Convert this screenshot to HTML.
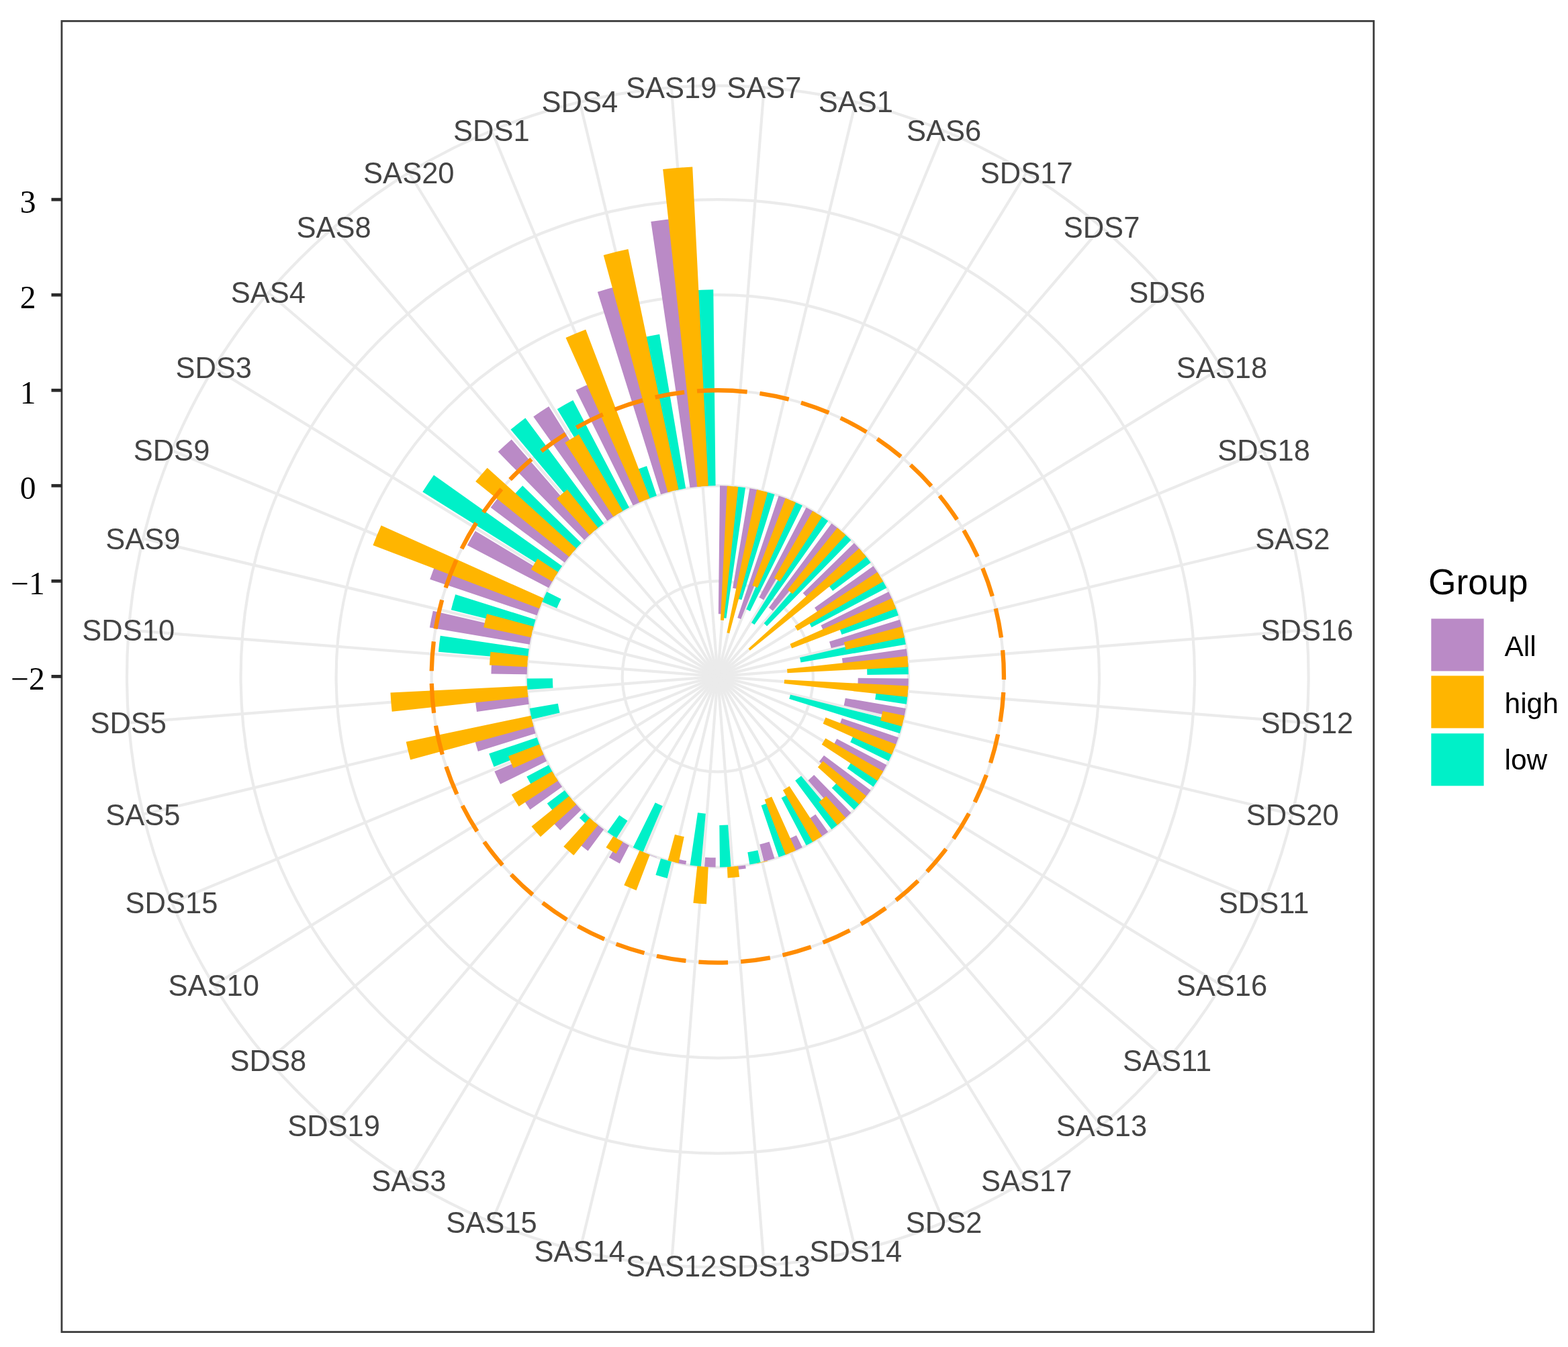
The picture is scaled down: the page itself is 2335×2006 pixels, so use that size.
<!DOCTYPE html><html><head><meta charset="utf-8"><style>html,body{margin:0;padding:0;background:#fff;}svg{display:block;}</style></head><body>
<svg width="2335" height="2006" viewBox="0 0 2335 2006">
<rect x="0" y="0" width="2335" height="2006" fill="#fff"/>
<g fill="none" stroke="#EBEBEB" stroke-width="4.2"><circle cx="1068.8" cy="1007.4" r="142.05"/><circle cx="1068.8" cy="1007.4" r="284.10"/><circle cx="1068.8" cy="1007.4" r="426.15"/><circle cx="1068.8" cy="1007.4" r="568.20"/><circle cx="1068.8" cy="1007.4" r="710.25"/><circle cx="1068.8" cy="1007.4" r="879.80"/><line x1="1068.8" y1="1007.4" x2="1137.83" y2="130.31"/><line x1="1068.8" y1="1007.4" x2="1274.19" y2="151.91"/><line x1="1068.8" y1="1007.4" x2="1405.48" y2="194.57"/><line x1="1068.8" y1="1007.4" x2="1528.49" y2="257.25"/><line x1="1068.8" y1="1007.4" x2="1640.18" y2="338.39"/><line x1="1068.8" y1="1007.4" x2="1737.81" y2="436.02"/><line x1="1068.8" y1="1007.4" x2="1818.95" y2="547.71"/><line x1="1068.8" y1="1007.4" x2="1881.63" y2="670.72"/><line x1="1068.8" y1="1007.4" x2="1924.29" y2="802.01"/><line x1="1068.8" y1="1007.4" x2="1945.89" y2="938.37"/><line x1="1068.8" y1="1007.4" x2="1945.89" y2="1076.43"/><line x1="1068.8" y1="1007.4" x2="1924.29" y2="1212.79"/><line x1="1068.8" y1="1007.4" x2="1881.63" y2="1344.08"/><line x1="1068.8" y1="1007.4" x2="1818.95" y2="1467.09"/><line x1="1068.8" y1="1007.4" x2="1737.81" y2="1578.78"/><line x1="1068.8" y1="1007.4" x2="1640.18" y2="1676.41"/><line x1="1068.8" y1="1007.4" x2="1528.49" y2="1757.55"/><line x1="1068.8" y1="1007.4" x2="1405.48" y2="1820.23"/><line x1="1068.8" y1="1007.4" x2="1274.19" y2="1862.89"/><line x1="1068.8" y1="1007.4" x2="1137.83" y2="1884.49"/><line x1="1068.8" y1="1007.4" x2="999.77" y2="1884.49"/><line x1="1068.8" y1="1007.4" x2="863.41" y2="1862.89"/><line x1="1068.8" y1="1007.4" x2="732.12" y2="1820.23"/><line x1="1068.8" y1="1007.4" x2="609.11" y2="1757.55"/><line x1="1068.8" y1="1007.4" x2="497.42" y2="1676.41"/><line x1="1068.8" y1="1007.4" x2="399.79" y2="1578.78"/><line x1="1068.8" y1="1007.4" x2="318.65" y2="1467.09"/><line x1="1068.8" y1="1007.4" x2="255.97" y2="1344.08"/><line x1="1068.8" y1="1007.4" x2="213.31" y2="1212.79"/><line x1="1068.8" y1="1007.4" x2="191.71" y2="1076.43"/><line x1="1068.8" y1="1007.4" x2="191.71" y2="938.37"/><line x1="1068.8" y1="1007.4" x2="213.31" y2="802.01"/><line x1="1068.8" y1="1007.4" x2="255.97" y2="670.72"/><line x1="1068.8" y1="1007.4" x2="318.65" y2="547.71"/><line x1="1068.8" y1="1007.4" x2="399.79" y2="436.02"/><line x1="1068.8" y1="1007.4" x2="497.42" y2="338.39"/><line x1="1068.8" y1="1007.4" x2="609.11" y2="257.25"/><line x1="1068.8" y1="1007.4" x2="732.12" y2="194.57"/><line x1="1068.8" y1="1007.4" x2="863.41" y2="151.91"/><line x1="1068.8" y1="1007.4" x2="999.77" y2="130.31"/></g>
<g><path d="M1069.85,914.22L1072.01,723.32A284.10,284.10 0 0 1 1088.51,723.98L1075.26,914.44A93.18,93.18 0 0 0 1069.85,914.22Z" fill="#BA8AC6"/><path d="M1076.46,920.23L1093.67,724.39A284.10,284.10 0 0 1 1110.07,726.31L1081.51,920.83A87.50,87.50 0 0 0 1076.46,920.23Z" fill="#00F0C8"/><path d="M1091.18,875.76L1116.41,727.32A284.10,284.10 0 0 1 1132.60,730.56L1098.79,877.28A133.53,133.53 0 0 0 1091.18,875.76Z" fill="#BA8AC6"/><path d="M1097.75,891.50L1137.64,731.77A284.10,284.10 0 0 1 1153.53,736.23L1104.43,893.37A119.46,119.46 0 0 0 1097.75,891.50Z" fill="#00F0C8"/><path d="M1098.28,920.05L1159.64,738.22A284.10,284.10 0 0 1 1175.12,743.95L1103.30,921.91A92.19,92.19 0 0 0 1098.28,920.05Z" fill="#BA8AC6"/><path d="M1111.24,907.52L1179.91,745.93A284.10,284.10 0 0 1 1194.91,752.82L1116.97,910.15A108.53,108.53 0 0 0 1111.24,907.52Z" fill="#00F0C8"/><path d="M1130.43,889.75L1200.63,755.74A284.10,284.10 0 0 1 1215.03,763.82L1137.16,893.53A132.82,132.82 0 0 0 1130.43,889.75Z" fill="#BA8AC6"/><path d="M1118.96,927.19L1219.44,766.53A284.10,284.10 0 0 1 1233.18,775.68L1123.54,930.24A94.61,94.61 0 0 0 1118.96,927.19Z" fill="#00F0C8"/><path d="M1144.94,905.06L1238.38,779.46A284.10,284.10 0 0 1 1251.33,789.70L1150.76,909.65A127.56,127.56 0 0 0 1144.94,905.06Z" fill="#BA8AC6"/><path d="M1137.61,928.31L1255.27,793.06A284.10,284.10 0 0 1 1267.40,804.25L1142.08,932.44A104.83,104.83 0 0 0 1137.61,928.31Z" fill="#00F0C8"/><path d="M1195.67,883.37L1271.95,808.80A284.10,284.10 0 0 1 1283.14,820.93L1202.66,890.95A177.42,177.42 0 0 0 1195.67,883.37Z" fill="#BA8AC6"/><path d="M1232.40,870.23L1286.50,824.87A284.10,284.10 0 0 1 1296.74,837.82L1240.10,879.96A213.50,213.50 0 0 0 1232.40,870.23Z" fill="#00F0C8"/><path d="M1213.04,905.07L1300.52,843.02A284.10,284.10 0 0 1 1309.67,856.76L1218.74,913.63A176.85,176.85 0 0 0 1213.04,905.07Z" fill="#BA8AC6"/><path d="M1204.11,926.17L1312.38,861.17A284.10,284.10 0 0 1 1320.46,875.57L1208.60,934.17A157.82,157.82 0 0 0 1204.11,926.17Z" fill="#00F0C8"/><path d="M1222.44,931.29L1323.38,881.29A284.10,284.10 0 0 1 1330.27,896.29L1226.60,940.35A171.45,171.45 0 0 0 1222.44,931.29Z" fill="#BA8AC6"/><path d="M1249.53,934.46L1332.25,901.08A284.10,284.10 0 0 1 1337.98,916.56L1253.46,945.08A194.89,194.89 0 0 0 1249.53,934.46Z" fill="#00F0C8"/><path d="M1235.03,955.46L1339.97,922.67A284.10,284.10 0 0 1 1344.43,938.56L1237.76,965.20A174.15,174.15 0 0 0 1235.03,955.46Z" fill="#BA8AC6"/><path d="M1191.03,979.23L1345.64,943.60A284.10,284.10 0 0 1 1348.88,959.79L1192.46,986.38A125.43,125.43 0 0 0 1191.03,979.23Z" fill="#00F0C8"/><path d="M1253.90,980.23L1349.89,966.13A284.10,284.10 0 0 1 1351.81,982.53L1255.16,991.02A187.08,187.08 0 0 0 1253.90,980.23Z" fill="#BA8AC6"/><path d="M1290.86,991.96L1352.22,987.69A284.10,284.10 0 0 1 1352.88,1004.19L1291.38,1004.88A222.59,222.59 0 0 0 1290.86,991.96Z" fill="#00F0C8"/><path d="M1277.74,1009.76L1352.88,1010.61A284.10,284.10 0 0 1 1352.22,1027.11L1277.25,1021.90A208.96,208.96 0 0 0 1277.74,1009.76Z" fill="#BA8AC6"/><path d="M1304.83,1028.14L1351.81,1032.27A284.10,284.10 0 0 1 1349.89,1048.67L1303.23,1041.82A236.94,236.94 0 0 0 1304.83,1028.14Z" fill="#00F0C8"/><path d="M1258.84,1039.71L1348.88,1055.01A284.10,284.10 0 0 1 1345.64,1071.20L1256.64,1050.69A192.76,192.76 0 0 0 1258.84,1039.71Z" fill="#BA8AC6"/><path d="M1176.99,1034.42L1344.43,1076.24A284.10,284.10 0 0 1 1339.97,1092.13L1175.23,1040.66A111.51,111.51 0 0 0 1176.99,1034.42Z" fill="#00F0C8"/><path d="M1253.73,1069.81L1337.98,1098.24A284.10,284.10 0 0 1 1332.25,1113.72L1249.79,1080.44A195.18,195.18 0 0 0 1253.73,1069.81Z" fill="#BA8AC6"/><path d="M1271.57,1093.56L1330.27,1118.51A284.10,284.10 0 0 1 1323.38,1133.51L1266.22,1105.20A220.32,220.32 0 0 0 1271.57,1093.56Z" fill="#00F0C8"/><path d="M1246.22,1100.34L1320.46,1139.23A284.10,284.10 0 0 1 1312.38,1153.63L1240.52,1110.49A200.29,200.29 0 0 0 1246.22,1100.34Z" fill="#BA8AC6"/><path d="M1269.21,1132.73L1309.67,1158.04A284.10,284.10 0 0 1 1300.52,1171.78L1261.59,1144.16A236.37,236.37 0 0 0 1269.21,1132.73Z" fill="#00F0C8"/><path d="M1226.99,1125.09L1296.74,1176.98A284.10,284.10 0 0 1 1286.50,1189.93L1219.89,1134.08A197.17,197.17 0 0 0 1226.99,1125.09Z" fill="#BA8AC6"/><path d="M1248.10,1163.38L1283.14,1193.87A284.10,284.10 0 0 1 1271.95,1206.00L1238.73,1173.53A237.65,237.65 0 0 0 1248.10,1163.38Z" fill="#00F0C8"/><path d="M1212.19,1154.07L1267.40,1210.55A284.10,284.10 0 0 1 1255.27,1221.74L1203.43,1162.15A205.12,205.12 0 0 0 1212.19,1154.07Z" fill="#BA8AC6"/><path d="M1193.01,1155.55L1251.33,1225.10A284.10,284.10 0 0 1 1238.38,1235.34L1184.20,1162.51A193.33,193.33 0 0 0 1193.01,1155.55Z" fill="#00F0C8"/><path d="M1214.44,1212.70L1233.18,1239.12A284.10,284.10 0 0 1 1219.44,1248.27L1202.27,1220.81A251.71,251.71 0 0 0 1214.44,1212.70Z" fill="#BA8AC6"/><path d="M1173.94,1182.53L1215.03,1250.98A284.10,284.10 0 0 1 1200.63,1259.06L1163.59,1188.34A204.27,204.27 0 0 0 1173.94,1182.53Z" fill="#00F0C8"/><path d="M1185.95,1243.90L1194.91,1261.98A284.10,284.10 0 0 1 1179.91,1268.87L1172.02,1250.31A263.93,263.93 0 0 0 1185.95,1243.90Z" fill="#BA8AC6"/><path d="M1144.66,1195.37L1175.12,1270.85A284.10,284.10 0 0 1 1159.64,1276.58L1133.62,1199.46A202.71,202.71 0 0 0 1144.66,1195.37Z" fill="#00F0C8"/><path d="M1145.69,1253.49L1153.53,1278.57A284.10,284.10 0 0 1 1137.64,1283.03L1131.27,1257.54A257.82,257.82 0 0 0 1145.69,1253.49Z" fill="#BA8AC6"/><path d="M1128.46,1266.25L1132.60,1284.24A284.10,284.10 0 0 1 1116.41,1287.48L1113.32,1269.28A265.63,265.63 0 0 0 1128.46,1266.25Z" fill="#00F0C8"/><path d="M1110.07,1288.49L1110.81,1293.55A289.21,289.21 0 0 1 1094.12,1295.50L1093.67,1290.41A284.10,284.10 0 0 0 1110.07,1288.49Z" fill="#BA8AC6"/><path d="M1084.17,1228.46L1088.51,1290.82A284.10,284.10 0 0 1 1072.01,1291.48L1071.31,1228.98A221.60,221.60 0 0 0 1084.17,1228.46Z" fill="#00F0C8"/><path d="M1065.75,1277.28L1065.59,1291.48A284.10,284.10 0 0 1 1049.09,1290.82L1050.08,1276.64A269.89,269.89 0 0 0 1065.75,1277.28Z" fill="#BA8AC6"/><path d="M1050.84,1211.73L1043.93,1290.41A284.10,284.10 0 0 1 1027.53,1288.49L1039.01,1210.34A205.12,205.12 0 0 0 1050.84,1211.73Z" fill="#00F0C8"/><path d="M1022.11,1282.02L1021.19,1287.48A284.10,284.10 0 0 1 1005.00,1284.24L1006.24,1278.84A278.56,278.56 0 0 0 1022.11,1282.02Z" fill="#BA8AC6"/><path d="M999.96,1283.03L993.73,1307.98A309.81,309.81 0 0 1 976.40,1303.11L984.07,1278.57A284.10,284.10 0 0 0 999.96,1283.03Z" fill="#00F0C8"/><path d="M977.96,1276.58L977.82,1276.99A284.53,284.53 0 0 1 962.32,1271.25L962.48,1270.85A284.10,284.10 0 0 0 977.96,1276.58Z" fill="#BA8AC6"/><path d="M986.80,1200.37L957.69,1268.87A284.10,284.10 0 0 1 942.69,1261.98L975.73,1195.28A209.67,209.67 0 0 0 986.80,1200.37Z" fill="#00F0C8"/><path d="M936.97,1259.06L922.86,1285.99A314.50,314.50 0 0 1 906.92,1277.04L922.57,1250.98A284.10,284.10 0 0 0 936.97,1259.06Z" fill="#BA8AC6"/><path d="M934.50,1222.14L918.16,1248.27A284.10,284.10 0 0 1 904.42,1239.12L922.26,1213.97A253.28,253.28 0 0 0 934.50,1222.14Z" fill="#00F0C8"/><path d="M899.22,1235.34L875.57,1267.14A323.73,323.73 0 0 1 860.80,1255.47L886.27,1225.10A284.10,284.10 0 0 0 899.22,1235.34Z" fill="#BA8AC6"/><path d="M882.33,1221.74L875.53,1229.56A294.47,294.47 0 0 1 862.95,1217.96L870.20,1210.55A284.10,284.10 0 0 0 882.33,1221.74Z" fill="#00F0C8"/><path d="M865.65,1206.00L834.37,1236.59A327.85,327.85 0 0 1 821.45,1222.58L854.46,1193.87A284.10,284.10 0 0 0 865.65,1206.00Z" fill="#BA8AC6"/><path d="M851.10,1189.93L826.17,1210.83A316.63,316.63 0 0 1 814.76,1196.40L840.86,1176.98A284.10,284.10 0 0 0 851.10,1189.93Z" fill="#00F0C8"/><path d="M837.08,1171.78L789.35,1205.64A342.62,342.62 0 0 1 778.31,1189.07L827.93,1158.04A284.10,284.10 0 0 0 837.08,1171.78Z" fill="#BA8AC6"/><path d="M825.22,1153.63L793.44,1172.71A321.18,321.18 0 0 1 784.30,1156.44L817.14,1139.23A284.10,284.10 0 0 0 825.22,1153.63Z" fill="#00F0C8"/><path d="M814.22,1133.51L745.10,1167.75A361.23,361.23 0 0 1 736.34,1148.67L807.33,1118.51A284.10,284.10 0 0 0 814.22,1133.51Z" fill="#BA8AC6"/><path d="M805.35,1113.72L735.53,1141.90A359.39,359.39 0 0 1 728.28,1122.31L799.62,1098.24A284.10,284.10 0 0 0 805.35,1113.72Z" fill="#00F0C8"/><path d="M797.63,1092.13L711.80,1118.95A374.02,374.02 0 0 1 705.93,1098.02L793.17,1076.24A284.10,284.10 0 0 0 797.63,1092.13Z" fill="#BA8AC6"/><path d="M833.62,1061.60L791.96,1071.20A284.10,284.10 0 0 1 788.72,1055.01L830.87,1047.85A241.34,241.34 0 0 0 833.62,1061.60Z" fill="#00F0C8"/><path d="M787.71,1048.67L709.99,1060.08A362.65,362.65 0 0 1 707.54,1039.15L785.79,1032.27A284.10,284.10 0 0 0 787.71,1048.67Z" fill="#BA8AC6"/><path d="M823.50,1024.46L785.38,1027.11A284.10,284.10 0 0 1 784.72,1010.61L822.93,1010.18A245.89,245.89 0 0 0 823.50,1024.46Z" fill="#00F0C8"/><path d="M784.72,1004.19L731.45,1003.58A337.37,337.37 0 0 1 732.24,984.00L785.38,987.69A284.10,284.10 0 0 0 784.72,1004.19Z" fill="#BA8AC6"/><path d="M785.79,982.53L652.92,970.85A417.48,417.48 0 0 1 655.74,946.76L787.71,966.13A284.10,284.10 0 0 0 785.79,982.53Z" fill="#00F0C8"/><path d="M788.72,959.79L639.85,934.48A435.10,435.10 0 0 1 644.81,909.69L791.96,943.60A284.10,284.10 0 0 0 788.72,959.79Z" fill="#BA8AC6"/><path d="M793.17,938.56L671.75,908.24A409.25,409.25 0 0 1 678.18,885.35L797.63,922.67A284.10,284.10 0 0 0 793.17,938.56Z" fill="#00F0C8"/><path d="M799.62,916.56L640.26,862.78A452.29,452.29 0 0 1 649.38,838.13L805.35,901.08A284.10,284.10 0 0 0 799.62,916.56Z" fill="#BA8AC6"/><path d="M829.29,905.63L807.33,896.29A284.10,284.10 0 0 1 814.22,881.29L835.61,891.89A260.24,260.24 0 0 0 829.29,905.63Z" fill="#00F0C8"/><path d="M817.14,875.57L695.84,812.02A421.04,421.04 0 0 1 707.82,790.69L825.22,861.17A284.10,284.10 0 0 0 817.14,875.57Z" fill="#BA8AC6"/><path d="M827.93,856.76L629.33,732.55A518.34,518.34 0 0 1 646.03,707.49L837.08,843.02A284.10,284.10 0 0 0 827.93,856.76Z" fill="#00F0C8"/><path d="M840.86,837.82L730.65,755.83A421.46,421.46 0 0 1 745.84,736.61L851.10,824.87A284.10,284.10 0 0 0 840.86,837.82Z" fill="#BA8AC6"/><path d="M854.46,820.93L762.18,740.66A406.41,406.41 0 0 1 778.20,723.30L865.65,808.80A284.10,284.10 0 0 0 854.46,820.93Z" fill="#00F0C8"/><path d="M870.20,804.25L741.70,672.82A467.91,467.91 0 0 1 761.69,654.38L882.33,793.06A284.10,284.10 0 0 0 870.20,804.25Z" fill="#BA8AC6"/><path d="M886.27,789.70L760.50,639.70A479.84,479.84 0 0 1 782.38,622.41L899.22,779.46A284.10,284.10 0 0 0 886.27,789.70Z" fill="#00F0C8"/><path d="M904.42,775.68L794.29,620.43A474.45,474.45 0 0 1 817.23,605.14L918.16,766.53A284.10,284.10 0 0 0 904.42,775.68Z" fill="#BA8AC6"/><path d="M922.57,763.82L829.79,609.27A464.36,464.36 0 0 1 853.32,596.06L936.97,755.74A284.10,284.10 0 0 0 922.57,763.82Z" fill="#00F0C8"/><path d="M942.69,752.82L857.57,580.98A475.87,475.87 0 0 1 882.70,569.43L957.69,745.93A284.10,284.10 0 0 0 942.69,752.82Z" fill="#BA8AC6"/><path d="M962.48,743.95L945.04,700.74A330.69,330.69 0 0 1 963.06,694.07L977.96,738.22A284.10,284.10 0 0 0 962.48,743.95Z" fill="#00F0C8"/><path d="M984.07,736.23L889.85,434.69A600.02,600.02 0 0 1 923.42,425.26L999.96,731.77A284.10,284.10 0 0 0 984.07,736.23Z" fill="#BA8AC6"/><path d="M1005.00,730.56L952.68,503.55A517.06,517.06 0 0 1 982.14,497.65L1021.19,727.32A284.10,284.10 0 0 0 1005.00,730.56Z" fill="#00F0C8"/><path d="M1027.53,726.31L969.35,329.98A684.68,684.68 0 0 1 1008.86,325.35L1043.93,724.39A284.10,284.10 0 0 0 1027.53,726.31Z" fill="#BA8AC6"/><path d="M1049.09,723.98L1028.83,432.63A576.15,576.15 0 0 1 1062.28,431.28L1065.59,723.32A284.10,284.10 0 0 0 1049.09,723.98Z" fill="#00F0C8"/><path d="M1072.95,923.55L1082.85,723.65A284.10,284.10 0 0 1 1099.31,724.94L1077.82,923.93A83.95,83.95 0 0 0 1072.95,923.55Z" fill="#FFB500"/><path d="M1082.43,942.33L1127.07,729.34A284.10,284.10 0 0 1 1143.12,733.19L1086.19,943.24A66.48,66.48 0 0 0 1082.43,942.33Z" fill="#FFB500"/><path d="M1120.28,872.12L1169.85,741.88A284.10,284.10 0 0 1 1185.10,748.20L1128.06,875.34A144.75,144.75 0 0 0 1120.28,872.12Z" fill="#FFB500"/><path d="M1152.90,860.76L1210.14,760.95A284.10,284.10 0 0 1 1224.22,769.58L1161.27,865.90A169.04,169.04 0 0 0 1152.90,860.76Z" fill="#FFB500"/><path d="M1172.84,878.16L1246.95,786.10A284.10,284.10 0 0 1 1259.51,796.82L1180.17,884.42A165.91,165.91 0 0 0 1172.84,878.16Z" fill="#FFB500"/><path d="M1114.50,966.02L1279.38,816.69A284.10,284.10 0 0 1 1290.10,829.25L1116.82,968.74A61.65,61.65 0 0 0 1114.50,966.02Z" fill="#FFB500"/><path d="M1183.55,932.41L1306.62,851.98A284.10,284.10 0 0 1 1315.25,866.06L1187.71,939.20A137.08,137.08 0 0 0 1183.55,932.41Z" fill="#FFB500"/><path d="M1176.50,959.08L1328.00,891.10A284.10,284.10 0 0 1 1334.32,906.35L1179.12,965.41A118.04,118.04 0 0 0 1176.50,959.08Z" fill="#FFB500"/><path d="M1256.91,956.42L1343.01,933.08A284.10,284.10 0 0 1 1346.86,949.13L1259.55,967.43A194.89,194.89 0 0 0 1256.91,956.42Z" fill="#FFB500"/><path d="M1172.04,996.25L1351.26,976.89A284.10,284.10 0 0 1 1352.55,993.35L1172.51,1002.26A103.84,103.84 0 0 0 1172.04,996.25Z" fill="#FFB500"/><path d="M1168.11,1012.32L1352.55,1021.45A284.10,284.10 0 0 1 1351.26,1037.91L1167.66,1018.08A99.44,99.44 0 0 0 1168.11,1012.32Z" fill="#FFB500"/><path d="M1314.47,1058.88L1346.86,1065.67A284.10,284.10 0 0 1 1343.01,1081.72L1311.06,1073.06A251.00,251.00 0 0 0 1314.47,1058.88Z" fill="#FFB500"/><path d="M1229.44,1068.53L1334.32,1108.45A284.10,284.10 0 0 1 1328.00,1123.70L1225.62,1077.76A171.88,171.88 0 0 0 1229.44,1068.53Z" fill="#FFB500"/><path d="M1229.36,1099.48L1315.25,1148.74A284.10,284.10 0 0 1 1306.62,1162.82L1223.74,1108.65A185.09,185.09 0 0 0 1229.36,1099.48Z" fill="#FFB500"/><path d="M1225.48,1133.53L1290.10,1185.55A284.10,284.10 0 0 1 1279.38,1198.11L1217.89,1142.42A201.14,201.14 0 0 0 1225.48,1133.53Z" fill="#FFB500"/><path d="M1230.04,1185.44L1259.51,1217.98A284.10,284.10 0 0 1 1246.95,1228.70L1219.43,1194.51A240.21,240.21 0 0 0 1230.04,1185.44Z" fill="#FFB500"/><path d="M1175.57,1170.78L1224.22,1245.22A284.10,284.10 0 0 1 1210.14,1253.85L1165.90,1176.71A195.18,195.18 0 0 0 1175.57,1170.78Z" fill="#FFB500"/><path d="M1149.11,1186.38L1185.10,1266.60A284.10,284.10 0 0 1 1169.85,1272.92L1138.57,1190.74A196.17,196.17 0 0 0 1149.11,1186.38Z" fill="#FFB500"/><path d="M1143.12,1281.61L1143.27,1282.16A284.67,284.67 0 0 1 1127.18,1286.02L1127.07,1285.46A284.10,284.10 0 0 0 1143.12,1281.61Z" fill="#FFB500"/><path d="M1099.31,1289.86L1101.06,1306.10A300.44,300.44 0 0 1 1083.66,1307.47L1082.85,1291.15A284.10,284.10 0 0 0 1099.31,1289.86Z" fill="#FFB500"/><path d="M1054.75,1291.15L1052.02,1346.34A339.36,339.36 0 0 1 1032.36,1344.79L1038.29,1289.86A284.10,284.10 0 0 0 1054.75,1291.15Z" fill="#FFB500"/><path d="M1018.78,1246.12L1010.53,1285.46A284.10,284.10 0 0 1 994.48,1281.61L1005.00,1242.81A243.90,243.90 0 0 0 1018.78,1246.12Z" fill="#FFB500"/><path d="M967.75,1272.92L947.59,1325.89A340.78,340.78 0 0 1 929.30,1318.32L952.50,1266.60A284.10,284.10 0 0 0 967.75,1272.92Z" fill="#FFB500"/><path d="M927.46,1253.85L917.49,1271.22A304.13,304.13 0 0 1 902.43,1261.99L913.38,1245.22A284.10,284.10 0 0 0 927.46,1253.85Z" fill="#FFB500"/><path d="M890.65,1228.70L854.39,1273.74A341.91,341.91 0 0 1 839.28,1260.83L878.09,1217.98A284.10,284.10 0 0 0 890.65,1228.70Z" fill="#FFB500"/><path d="M858.22,1198.11L804.94,1246.36A355.98,355.98 0 0 1 791.51,1230.63L847.50,1185.55A284.10,284.10 0 0 0 858.22,1198.11Z" fill="#FFB500"/><path d="M830.98,1162.82L772.60,1200.97A353.85,353.85 0 0 1 761.85,1183.44L822.35,1148.74A284.10,284.10 0 0 0 830.98,1162.82Z" fill="#FFB500"/><path d="M809.60,1123.70L764.49,1143.94A333.53,333.53 0 0 1 757.08,1126.03L803.28,1108.45A284.10,284.10 0 0 0 809.60,1123.70Z" fill="#FFB500"/><path d="M794.59,1081.72L611.15,1131.44A474.16,474.16 0 0 1 604.72,1104.65L790.74,1065.67A284.10,284.10 0 0 0 794.59,1081.72Z" fill="#FFB500"/><path d="M786.34,1037.91L583.68,1059.80A487.94,487.94 0 0 1 581.46,1031.53L785.05,1021.45A284.10,284.10 0 0 0 786.34,1037.91Z" fill="#FFB500"/><path d="M785.05,993.35L729.01,990.57A340.21,340.21 0 0 1 730.56,970.86L786.34,976.89A284.10,284.10 0 0 0 785.05,993.35Z" fill="#FFB500"/><path d="M790.74,949.13L720.25,934.36A356.12,356.12 0 0 1 725.08,914.24L794.59,933.08A284.10,284.10 0 0 0 790.74,949.13Z" fill="#FFB500"/><path d="M803.28,906.35L555.41,812.02A549.31,549.31 0 0 1 567.63,782.53L809.60,891.10A284.10,284.10 0 0 0 803.28,906.35Z" fill="#FFB500"/><path d="M822.35,866.06L790.81,847.97A320.46,320.46 0 0 1 800.54,832.09L830.98,851.98A284.10,284.10 0 0 0 822.35,866.06Z" fill="#FFB500"/><path d="M847.50,829.25L708.19,717.10A462.94,462.94 0 0 1 725.66,696.64L858.22,816.69A284.10,284.10 0 0 0 847.50,829.25Z" fill="#FFB500"/><path d="M878.09,796.82L828.99,742.60A357.26,357.26 0 0 1 844.77,729.11L890.65,786.10A284.10,284.10 0 0 0 878.09,796.82Z" fill="#FFB500"/><path d="M913.38,769.58L841.35,659.35A415.78,415.78 0 0 1 861.95,646.73L927.46,760.95A284.10,284.10 0 0 0 913.38,769.58Z" fill="#FFB500"/><path d="M952.50,748.20L842.54,503.12A552.72,552.72 0 0 1 872.21,490.83L967.75,741.88A284.10,284.10 0 0 0 952.50,748.20Z" fill="#FFB500"/><path d="M994.48,733.19L898.72,379.88A650.16,650.16 0 0 1 935.46,371.06L1010.53,729.34A284.10,284.10 0 0 0 994.48,733.19Z" fill="#FFB500"/><path d="M1038.29,724.94L987.20,251.97A759.83,759.83 0 0 1 1031.22,248.50L1054.75,723.65A284.10,284.10 0 0 0 1038.29,724.94Z" fill="#FFB500"/></g>
<circle cx="1068.8" cy="1007.4" r="426.15" fill="none" stroke="#FF8C00" stroke-width="6.3" stroke-dasharray="44 19" transform="rotate(-90 1068.8 1007.4)"/>
<g font-family="Liberation Sans, Arial, sans-serif" font-size="43.5" fill="#444" text-anchor="middle"><text x="1137.87" y="145.51">SAS7</text><text x="1274.30" y="167.12">SAS1</text><text x="1405.68" y="209.81">SAS6</text><text x="1528.76" y="272.52">SDS17</text><text x="1640.51" y="353.71">SDS7</text><text x="1738.19" y="451.39">SDS6</text><text x="1819.38" y="563.14">SAS18</text><text x="1882.09" y="686.22">SDS18</text><text x="1924.78" y="817.60">SAS2</text><text x="1946.39" y="954.03">SDS16</text><text x="1946.39" y="1092.17">SDS12</text><text x="1924.78" y="1228.60">SDS20</text><text x="1882.09" y="1359.98">SDS11</text><text x="1819.38" y="1483.06">SAS16</text><text x="1738.19" y="1594.81">SAS11</text><text x="1640.51" y="1692.49">SAS13</text><text x="1528.76" y="1773.68">SAS17</text><text x="1405.68" y="1836.39">SDS2</text><text x="1274.30" y="1879.08">SDS14</text><text x="1137.87" y="1900.69">SDS13</text><text x="999.73" y="1900.69">SAS12</text><text x="863.30" y="1879.08">SAS14</text><text x="731.92" y="1836.39">SAS15</text><text x="608.84" y="1773.68">SAS3</text><text x="497.09" y="1692.49">SDS19</text><text x="399.41" y="1594.81">SDS8</text><text x="318.22" y="1483.06">SAS10</text><text x="255.51" y="1359.98">SDS15</text><text x="212.82" y="1228.60">SAS5</text><text x="191.21" y="1092.17">SDS5</text><text x="191.21" y="954.03">SDS10</text><text x="212.82" y="817.60">SAS9</text><text x="255.51" y="686.22">SDS9</text><text x="318.22" y="563.14">SDS3</text><text x="399.41" y="451.39">SAS4</text><text x="497.09" y="353.71">SAS8</text><text x="608.84" y="272.52">SAS20</text><text x="731.92" y="209.81">SDS1</text><text x="863.30" y="167.12">SDS4</text><text x="999.73" y="145.51">SAS19</text></g>
<rect x="91.9" y="31.4" width="1953.8" height="1952.2" fill="none" stroke="#3d3d3d" stroke-width="2.8"/>
<g font-family="Liberation Serif, Times New Roman, serif" font-size="47.5" fill="#000" text-anchor="middle"><line x1="76.5" y1="297.15" x2="91.9" y2="297.15" stroke="#2a2a2a" stroke-width="4.8"/><text x="41.5" y="316.65">3</text><line x1="76.5" y1="439.20" x2="91.9" y2="439.20" stroke="#2a2a2a" stroke-width="4.8"/><text x="41.5" y="458.70">2</text><line x1="76.5" y1="581.25" x2="91.9" y2="581.25" stroke="#2a2a2a" stroke-width="4.8"/><text x="41.5" y="600.75">1</text><line x1="76.5" y1="723.30" x2="91.9" y2="723.30" stroke="#2a2a2a" stroke-width="4.8"/><text x="41.5" y="742.80">0</text><line x1="76.5" y1="865.35" x2="91.9" y2="865.35" stroke="#2a2a2a" stroke-width="4.8"/><text x="41.5" y="884.85">−1</text><line x1="76.5" y1="1007.40" x2="91.9" y2="1007.40" stroke="#2a2a2a" stroke-width="4.8"/><text x="41.5" y="1026.90">−2</text></g>
<g font-family="Liberation Sans, Arial, sans-serif" fill="#000"><text x="2127" y="885.4" font-size="53.4">Group</text><rect x="2131.3" y="921.4" width="78.3" height="78" fill="#BA8AC6"/><rect x="2131.3" y="1006.4" width="78.3" height="78" fill="#FFB500"/><rect x="2131.3" y="1092.3" width="78.3" height="78" fill="#00F0C8"/><text x="2240.6" y="976.5" font-size="42.4">All</text><text x="2240.6" y="1061.5" font-size="42.4">high</text><text x="2240.6" y="1146.2" font-size="42.4">low</text></g>
</svg></body></html>
